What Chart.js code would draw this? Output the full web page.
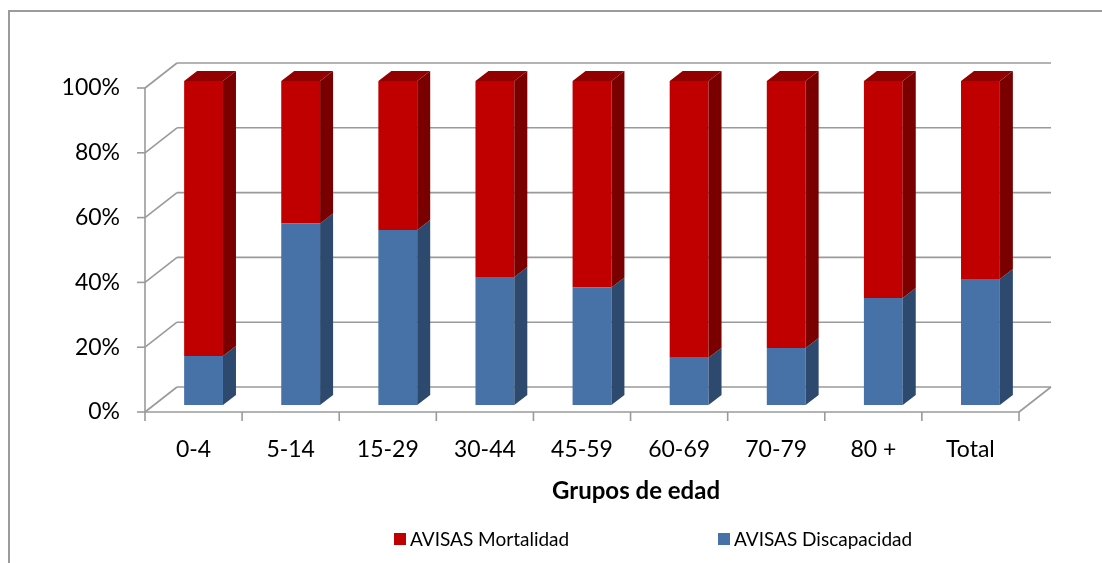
<!DOCTYPE html>
<html>
<head>
<meta charset="utf-8">
<title>AVISAS por grupos de edad</title>
<script src="https://cdn.jsdelivr.net/npm/chart.js@4/dist/chart.umd.min.js"></script>
<style>
  html, body { margin: 0; padding: 0; background: #fff; }
  #avisasCanvas { display: block; }
</style>
</head>
<body>
<canvas id="avisasCanvas" width="1102" height="563"></canvas>
<script>
// share (%) of AVISAS per age group
const grupos = ['0-4', '5-14', '15-29', '30-44', '45-59', '60-69', '70-79', '80 +', 'Total'];
const discapacidad = [15.1, 56.0, 54.0, 39.5, 36.3, 14.6, 17.6, 33.0, 38.9];
const mortalidad = [84.9, 44.0, 46.0, 60.5, 63.7, 85.4, 82.4, 67.0, 61.1];
const yTickLabels = ['0%', '20%', '40%', '60%', '80%', '100%'];

const FONT = 'Lato, "Open Sans", sans-serif';

// fake 3D: floor/wall depth and bar depth
const WALL_DX = 32, WALL_DY = -25;
const BAR_DX = 13, BAR_DY = -10;
const BAR_SHIFT_X = 10, BAR_SHIFT_Y = -7;

const shades = {
  blue: { front: '#4672a8', side: '#2d4a6e', top: '#3a5f8c' },
  red: { front: '#c00000', side: '#7a0000', top: '#930000' }
};

const line = (ctx, x1, y1, x2, y2) => {
  ctx.beginPath();
  ctx.moveTo(x1, y1);
  ctx.lineTo(x2, y2);
  ctx.stroke();
};

const poly = (ctx, pts, color) => {
  ctx.beginPath();
  ctx.moveTo(pts[0][0], pts[0][1]);
  for (let i = 1; i < pts.length; i++) ctx.lineTo(pts[i][0], pts[i][1]);
  ctx.closePath();
  ctx.fillStyle = color;
  ctx.fill();
};

const frame3d = {
  id: 'frame3d',
  beforeDraw(chart) {
    const { ctx, chartArea: a, scales: { y } } = chart;
    ctx.save();
    // outer chart border
    ctx.strokeStyle = '#9b9b9b';
    ctx.lineWidth = 2;
    ctx.strokeRect(9, 11, 1200, 700);

    ctx.strokeStyle = '#9a9a9a';
    ctx.lineWidth = 1.6;
    y.ticks.forEach(t => {
      const py = y.getPixelForValue(t.value);
      line(ctx, a.left, py, a.left + WALL_DX, py + WALL_DY);
      line(ctx, a.left + WALL_DX, py + WALL_DY, a.right + WALL_DX, py + WALL_DY);
      line(ctx, a.left - 8, py, a.left, py);
    });
    line(ctx, a.left, a.top, a.left, a.bottom);
    line(ctx, a.left, a.bottom, a.right, a.bottom);
    line(ctx, a.right, a.bottom, a.right + WALL_DX, a.bottom + WALL_DY);

    const step = (a.right - a.left) / grupos.length;
    for (let i = 0; i <= grupos.length; i++) {
      const bx = a.left + i * step;
      line(ctx, bx, a.bottom, bx, a.bottom + 9);
    }
    ctx.restore();
  },
  beforeDatasetsDraw(chart) {
    chart.ctx.save();
    chart.ctx.translate(BAR_SHIFT_X, BAR_SHIFT_Y);
  },
  afterDatasetsDraw(chart) {
    const { ctx } = chart;
    const last = chart.data.datasets.length - 1;
    chart.data.datasets.forEach((ds, di) => {
      const meta = chart.getDatasetMeta(di);
      meta.data.forEach(bar => {
        const { x, y, base, width } = bar.getProps(['x', 'y', 'base', 'width'], true);
        const l = x - width / 2, r = x + width / 2;
        poly(ctx, [[r, y], [r + BAR_DX, y + BAR_DY], [r + BAR_DX, base + BAR_DY], [r, base]], ds.sideColor);
        if (di === last) {
          poly(ctx, [[l, y], [l + BAR_DX, y + BAR_DY], [r + BAR_DX, y + BAR_DY], [r, y]], ds.topColor);
        }
      });
    });
    ctx.restore();
  },
  afterDraw(chart) {
    const { ctx } = chart;
    ctx.save();
    ctx.fillStyle = '#000';
    ctx.textAlign = 'center';
    ctx.textBaseline = 'middle';
    ctx.font = 'bold 24px ' + FONT;
    ctx.fillText('Grupos de edad', 636, 491);

    // legend, top series first
    const items = chart.data.datasets.slice().reverse();
    const starts = [394, 718];
    ctx.font = '19px ' + FONT;
    ctx.textAlign = 'left';
    items.forEach((ds, i) => {
      ctx.fillStyle = ds.backgroundColor;
      ctx.fillRect(starts[i], 533, 12, 12);
      ctx.fillStyle = '#000';
      ctx.fillText(ds.label, starts[i] + 16, 540);
    });
    ctx.restore();
  }
};

new Chart(document.getElementById('avisasCanvas'), {
  type: 'bar',
  data: {
    labels: grupos,
    datasets: [
      {
        label: 'AVISAS Discapacidad',
        data: discapacidad,
        backgroundColor: shades.blue.front,
        sideColor: shades.blue.side,
        topColor: shades.blue.top,
        borderWidth: 0,
        clip: false
      },
      {
        label: 'AVISAS Mortalidad',
        data: mortalidad,
        backgroundColor: shades.red.front,
        sideColor: shades.red.side,
        topColor: shades.red.top,
        borderWidth: 0,
        clip: false
      }
    ]
  },
  options: {
    responsive: false,
    animation: false,
    devicePixelRatio: 1,
    categoryPercentage: 1,
    barPercentage: 0.4,
    layout: { padding: { top: 88, right: 83, left: 0, bottom: 0 } },
    plugins: {
      legend: { display: false },
      tooltip: { enabled: false }
    },
    scales: {
      x: {
        stacked: true,
        grid: { display: false },
        border: { display: false },
        ticks: { color: '#000', font: { family: FONT, size: 23 }, padding: 16, maxRotation: 0 },
        afterFit: s => { s.height = 151; }
      },
      y: {
        stacked: true,
        min: 0,
        max: 100,
        grid: { display: false },
        border: { display: false },
        ticks: {
          stepSize: 20,
          color: '#000',
          font: { family: FONT, size: 23 },
          padding: 17,
          callback: (v, i) => yTickLabels[i]
        },
        afterFit: s => { s.width = 145; }
      }
    }
  },
  plugins: [frame3d]
});
</script>
</body>
</html>
